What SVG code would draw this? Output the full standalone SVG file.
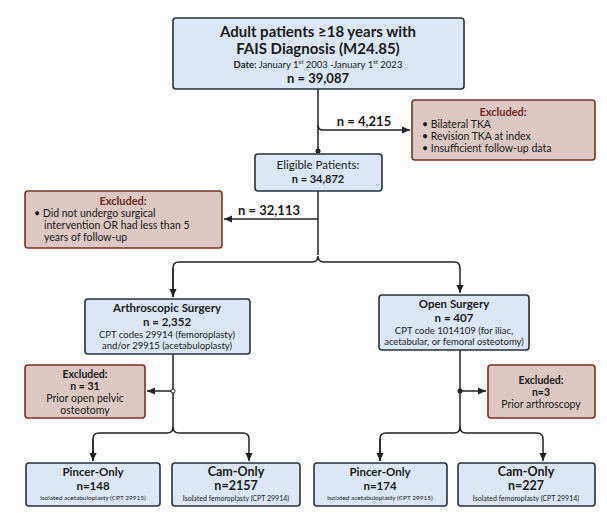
<svg xmlns="http://www.w3.org/2000/svg" width="607" height="513" viewBox="0 0 607 513">
<defs>
<marker id="ah" viewBox="0 0 10 10" refX="9" refY="5" markerWidth="6" markerHeight="6" orient="auto"><path d="M0,1 L9,5 L0,9 z" fill="#222"/></marker>
<style>
.b{fill:#dbe7f7;stroke:#28313d;stroke-width:1.6}
.e{fill:#dcc7c2;stroke:#7a3322;stroke-width:1.6}
text{font-family:Lato,"Noto Sans",sans-serif;fill:#1a1a1a}
.t{font-weight:bold}
.x{font-weight:bold;fill:#6b2a1a}
.c{fill:none;stroke:#222;stroke-width:1.5}
</style>
</defs>
<rect width="607" height="513" fill="#fff"/>
<g id="connectors">
<path class="c" d="M318,89 V153"/>
<path class="c" d="M318,125 Q318,130 323,130 H410" marker-end="url(#ah)"/>
<circle cx="318" cy="151" r="2.5" fill="#222"/>
<path class="c" d="M318,191 V255"/>
<path class="c" d="M318,219 H224" marker-end="url(#ah)"/>
<path class="c" d="M173,297 V268 Q173,262 179,262 H312 Q318,262 318,256 Q318,262 324,262 H454 Q460,262 460,268 V293" marker-end="url(#ah)"/>
<path class="c" d="M173,268 V297" marker-end="url(#ah)"/>
<path class="c" d="M173,354 V428"/>
<path class="c" d="M173,391 H147" marker-end="url(#ah)"/>
<circle cx="173" cy="391" r="2" fill="#fff" stroke="#222"/>
<path class="c" d="M93,461 V439 Q93,433 99,433 H167 Q173,433 173,427 Q173,433 179,433 H243 Q249,433 249,439 V461" marker-end="url(#ah)"/>
<path class="c" d="M93,439 V461" marker-end="url(#ah)"/>
<path class="c" d="M460,350 V428"/>
<path class="c" d="M460,391 H486" marker-end="url(#ah)"/>
<circle cx="460" cy="391" r="2.5" fill="#222"/>
<path class="c" d="M380,461 V439 Q380,433 386,433 H454 Q460,433 460,427 Q460,433 466,433 H537 Q543,433 543,439 V461" marker-end="url(#ah)"/>
<path class="c" d="M380,439 V461" marker-end="url(#ah)"/>
<text x="364" y="126" text-anchor="middle" class="t" font-size="13">n = 4,215</text>
<text x="269" y="215" text-anchor="middle" class="t" font-size="13">n = 32,113</text>
</g>
<g id="n1"><rect class="b" x="173" y="18" width="291" height="71" rx="3"/>
<text x="318" y="37" text-anchor="middle" class="t" font-size="15">Adult patients ≥18 years with</text>
<text x="318" y="54" text-anchor="middle" class="t" font-size="15">FAIS Diagnosis (M24.85)</text>
<text x="318" y="68" text-anchor="middle" font-size="9.5"><tspan font-weight="bold">Date:</tspan> January 1<tspan font-size="6" dy="-4">st</tspan><tspan dy="4"> 2003 -January 1</tspan><tspan font-size="6" dy="-4">st</tspan><tspan dy="4"> 2023</tspan></text>
<text x="318" y="83" text-anchor="middle" class="t" font-size="13">n = 39,087</text></g>
<g id="ex1"><rect class="e" x="412" y="100" width="183" height="60" rx="3"/>
<text x="503" y="116" text-anchor="middle" class="x" font-size="11">Excluded:</text>
<text x="422" y="128" font-size="10.5">• Bilateral TKA</text>
<text x="422" y="140" font-size="10.5">• Revision TKA at index</text>
<text x="422" y="152" font-size="10.5">• Insufficient follow-up data</text></g>
<g id="n2"><rect class="b" x="255" y="154" width="127" height="37" rx="3"/>
<text x="318" y="169" text-anchor="middle" font-size="11.5">Eligible Patients:</text>
<text x="318" y="183" text-anchor="middle" class="t" font-size="11">n = 34,872</text></g>
<g id="ex2"><rect class="e" x="25" y="191" width="197" height="57" rx="3"/>
<text x="123" y="205" text-anchor="middle" class="x" font-size="11">Excluded:</text>
<text x="34" y="217" font-size="10.5">• Did not undergo surgical</text>
<text x="44" y="229" font-size="10.5">intervention OR had less than 5</text>
<text x="44" y="241" font-size="10.5">years of follow-up</text></g>
<g id="n3"><rect class="b" x="85" y="299" width="165" height="55" rx="3"/>
<text x="167" y="312" text-anchor="middle" class="t" font-size="11.5">Arthroscopic Surgery</text>
<text x="167" y="326" text-anchor="middle" class="t" font-size="11.5">n = 2,352</text>
<text x="167" y="338" text-anchor="middle" font-size="9.5">CPT codes 29914 (femoroplasty)</text>
<text x="167" y="349" text-anchor="middle" font-size="9.5">and/or 29915 (acetabuloplasty)</text></g>
<g id="n4"><rect class="b" x="379" y="295" width="150" height="55" rx="3"/>
<text x="454" y="308" text-anchor="middle" class="t" font-size="11.5">Open Surgery</text>
<text x="454" y="322" text-anchor="middle" class="t" font-size="11.5">n = 407</text>
<text x="454" y="334" text-anchor="middle" font-size="9.5">CPT code 1014109 (for iliac,</text>
<text x="454" y="345" text-anchor="middle" font-size="9.5">acetabular, or femoral osteotomy)</text></g>
<g id="ex3"><rect class="e" x="25" y="365" width="120" height="53" rx="3"/>
<text x="85" y="378" text-anchor="middle" class="t" font-size="10.5">Excluded:</text>
<text x="85" y="390" text-anchor="middle" class="t" font-size="10.5">n = 31</text>
<text x="85" y="402" text-anchor="middle" font-size="10.5">Prior open pelvic</text>
<text x="85" y="414" text-anchor="middle" font-size="10.5">osteotomy</text></g>
<g id="ex4"><rect class="e" x="488" y="365" width="107" height="53" rx="3"/>
<text x="541" y="384" text-anchor="middle" class="t" font-size="10.5">Excluded:</text>
<text x="541" y="396" text-anchor="middle" class="t" font-size="10.5">n=3</text>
<text x="541" y="408" text-anchor="middle" font-size="10.5">Prior arthroscopy</text></g>
<g id="p1"><rect class="b" x="26" y="463" width="134" height="43" rx="3"/>
<text x="93" y="476" text-anchor="middle" class="t" font-size="11.5">Pincer-Only</text>
<text x="93" y="490" text-anchor="middle" class="t" font-size="11.5">n=148</text>
<text x="93" y="500" text-anchor="middle" font-size="6.5">isolated acetabuloplasty (CPT 29915)</text></g>
<g id="c1"><rect class="b" x="172" y="463" width="128" height="43" rx="3"/>
<text x="236" y="476" text-anchor="middle" class="t" font-size="12.5">Cam-Only</text>
<text x="236" y="490" text-anchor="middle" class="t" font-size="12.5">n=2157</text>
<text x="236" y="501" text-anchor="middle" font-size="7">Isolated femoroplasty (CPT 29914)</text></g>
<g id="p2"><rect class="b" x="314" y="463" width="133" height="43" rx="3"/>
<text x="380" y="476" text-anchor="middle" class="t" font-size="11.5">Pincer-Only</text>
<text x="380" y="490" text-anchor="middle" class="t" font-size="11.5">n=174</text>
<text x="380" y="500" text-anchor="middle" font-size="6.5">isolated acetabuloplasty (CPT 29915)</text></g>
<g id="c2"><rect class="b" x="458" y="463" width="137" height="43" rx="3"/>
<text x="526" y="476" text-anchor="middle" class="t" font-size="12.5">Cam-Only</text>
<text x="526" y="490" text-anchor="middle" class="t" font-size="12.5">n=227</text>
<text x="526" y="501" text-anchor="middle" font-size="7">Isolated femoroplasty (CPT 29914)</text></g>
</svg>
